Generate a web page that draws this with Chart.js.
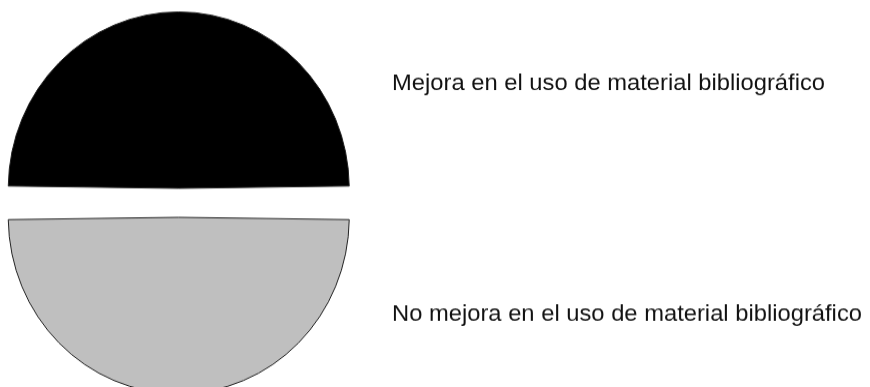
<!DOCTYPE html>
<html>
<head>
<meta charset="utf-8">
<script src="https://cdn.jsdelivr.net/npm/chart.js@4/dist/chart.umd.min.js"></script>
<style>
  html, body { margin:0; padding:0; background:#fff; }
  #pie { display:block; }
</style>
</head>
<body>
<canvas id="pie" width="870" height="374" style="width:870px;height:387px"></canvas>
<script>
const labels = ["Mejora en el uso de material bibliográfico", "No mejora en el uso de material bibliográfico"];
const values = [50, 50];
const colors = ["#000000", "#bfbfbf"];

// the original pie is a bit taller than wide, canvas gets stretched by css
const stretch = 387 / 374;

// text labels next to the slices, drawn unstretched
const sideLabels = {
  id: "sideLabels",
  afterDraw(chart){
    const ctx = chart.ctx;
    const ys = [90.5, 320.5];
    ctx.save();
    ctx.scale(1, 1 / stretch);
    ctx.fillStyle = "#111";
    ctx.font = "23.75px 'Liberation Sans', Arial, sans-serif";
    ctx.textBaseline = "alphabetic";
    labels.forEach((t, i) => ctx.fillText(t, 392, ys[i]));
    ctx.restore();
  }
};

new Chart(document.getElementById("pie"), {
  type: "pie",
  data: {
    labels,
    datasets: [{
      data: values,
      backgroundColor: colors,
      borderColor: "#222",
      borderWidth: 1,
      offset: 56,   // arc draws offset/4 -> 14px
      clip: false
    }]
  },
  options: {
    responsive: false,
    devicePixelRatio: 1,
    animation: false,
    rotation: -90,
    radius: 156.5, // + 14 added back by the offset
    layout: { padding: { left: 0, right: 512.5, top: 18, bottom: 0 } },
    plugins: {
      legend: { display: false },
      tooltip: { enabled: false }
    }
  },
  plugins: [sideLabels]
});
</script>
</body>
</html>
